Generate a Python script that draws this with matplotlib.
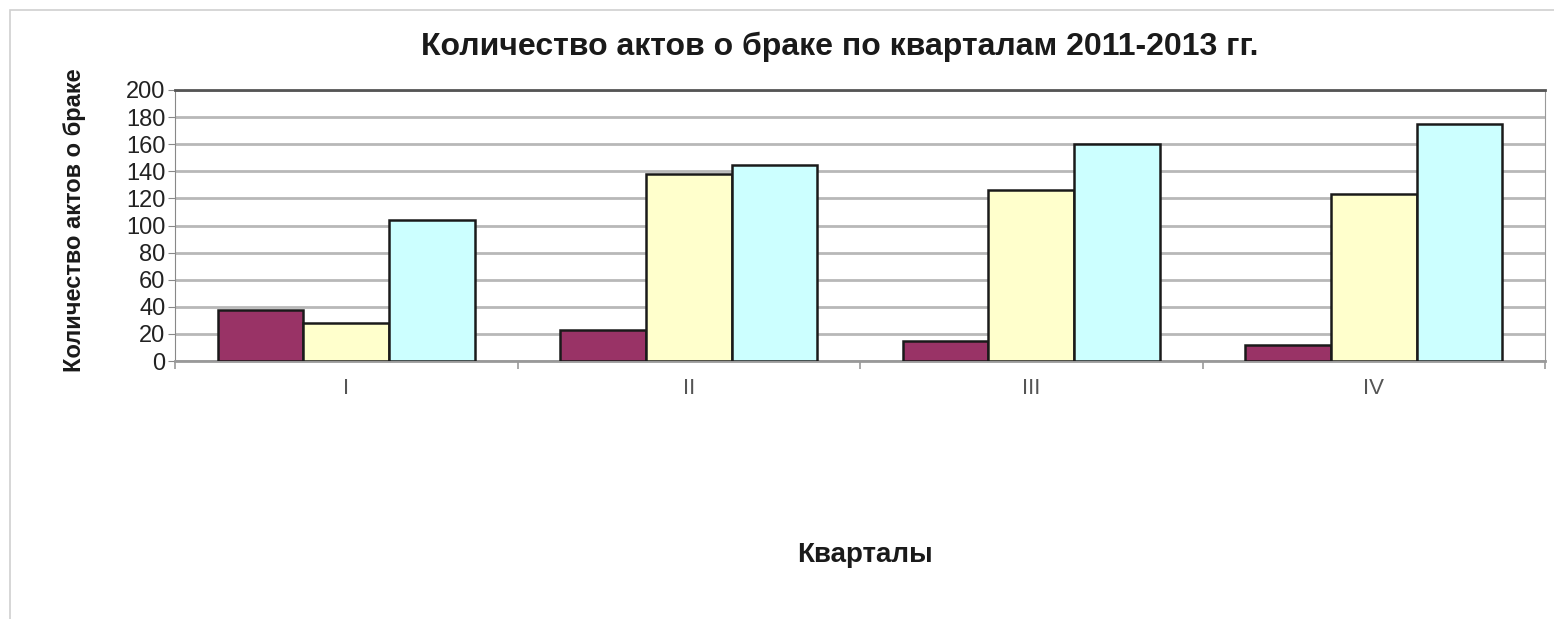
import matplotlib.pyplot as plt
import numpy as np
from matplotlib.patches import Rectangle

plt.rcParams['font.family'] = ['Liberation Sans', 'DejaVu Sans']

# Кварталы и значения по годам
kvartaly = ['I', 'II', 'III', 'IV']
god_2011 = [38, 23, 15, 12]
god_2012 = [28, 138, 126, 123]
god_2013 = [104, 145, 160, 175]
cveta = ['#993366', '#FFFFCC', '#CCFFFF']

fig = plt.figure(figsize=(15.54, 6.19), dpi=100)
ax = fig.add_axes([175 / 1554, 1 - 361 / 619, 1370 / 1554, 271 / 619])

# рамка всей диаграммы
fig.patches.append(Rectangle((10 / 1554, -0.1), 1.2, 1 - 10 / 619 + 0.1,
                             transform=fig.transFigure, fill=False,
                             edgecolor='#d0d0d0', linewidth=1.2))

x = np.arange(len(kvartaly))
w = 0.25
for i, (vals, c) in enumerate(zip([god_2011, god_2012, god_2013], cveta)):
    ax.bar(x + (i - 1) * w, vals, width=w, color=c, edgecolor='#1a1a1a',
           linewidth=1.8, zorder=3)

ax.set_xlim(-0.5, 3.5)
ax.set_ylim(0, 200)
ax.set_yticks(range(0, 201, 20))
ax.yaxis.grid(True, color='#b8b8b8', linewidth=2, zorder=0)
ax.set_axisbelow(True)

ax.set_xticks(x)
ax.set_xticklabels(kvartaly, color='#555555', fontsize=16)
ax.tick_params(axis='x', length=0, pad=12)
ax.set_xticks(np.arange(-0.5, 4, 1), minor=True)
ax.tick_params(axis='x', which='minor', length=6, color='#999999', width=1.2)
ax.tick_params(axis='y', length=5, color='#888888', labelsize=17,
               labelcolor='#222222', pad=2)

ax.spines['top'].set_color('#555555')
ax.spines['top'].set_linewidth(2)
ax.spines['right'].set_color('#999999')
ax.spines['bottom'].set_color('#999999')
ax.spines['bottom'].set_linewidth(2)
ax.spines['left'].set_color('#888888')

fig.text(840 / 1554, 1 - 47 / 619, 'Количество актов о браке по кварталам 2011-2013 гг.',
         ha='center', va='center', fontsize=23, fontweight='bold', color='#1a1a1a')
fig.text(75 / 1554, 1 - 220 / 619, 'Количество актов о браке', rotation=90,
         ha='center', va='center', fontsize=17, fontweight='bold', color='#1a1a1a')
fig.text(865 / 1554, 1 - 555 / 619, 'Кварталы', ha='center', va='center',
         fontsize=20, fontweight='bold', color='#1a1a1a')

fig.savefig('out.png', dpi=100)
